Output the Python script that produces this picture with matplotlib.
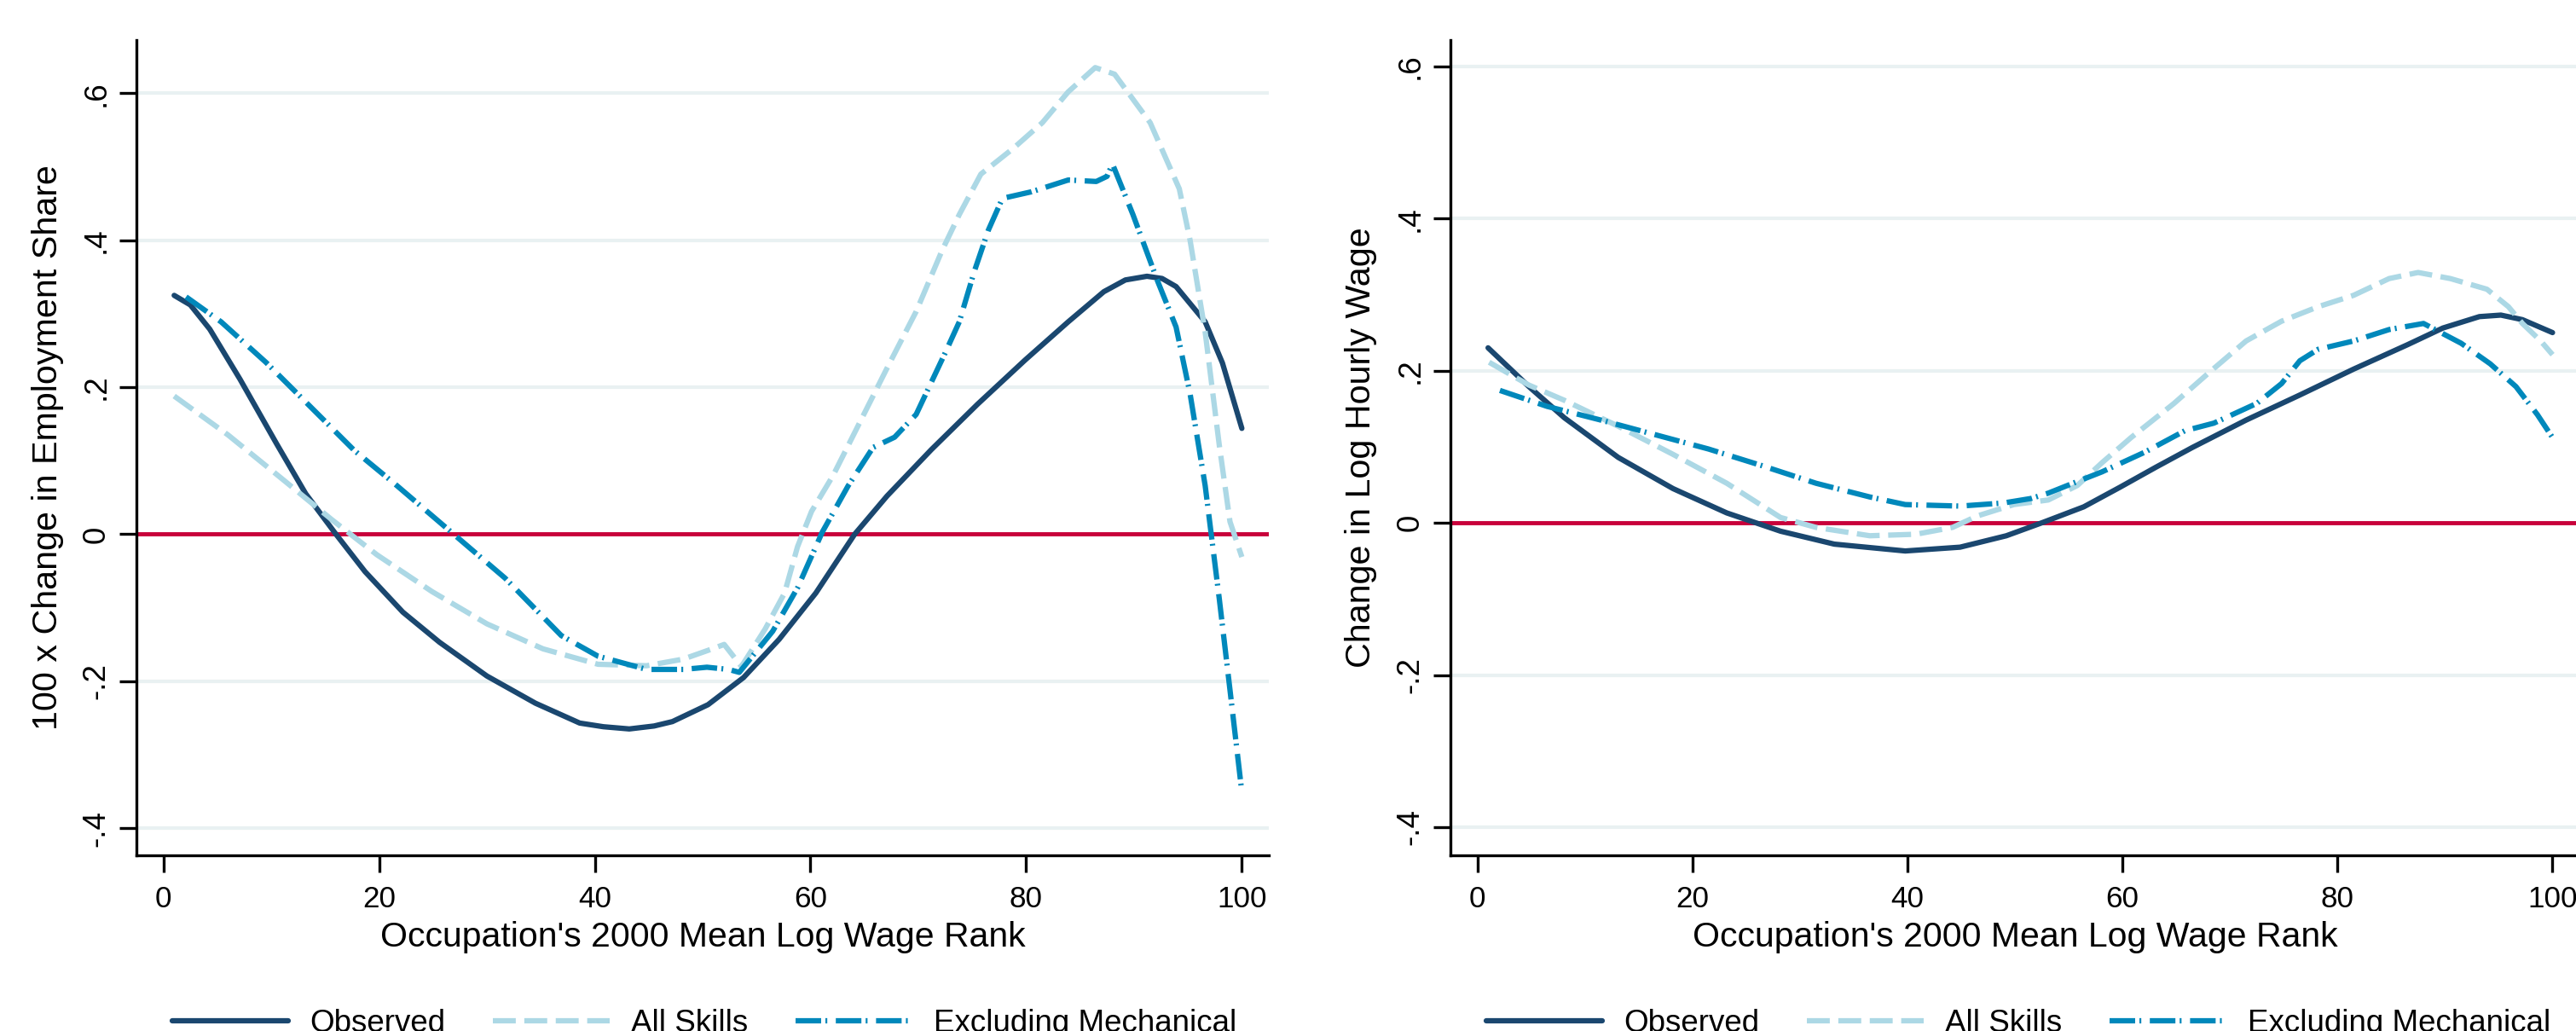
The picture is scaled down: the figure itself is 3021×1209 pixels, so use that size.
import matplotlib
matplotlib.use('Agg')
import matplotlib.pyplot as plt
from matplotlib import font_manager as fm

# ---------------- data ----------------
series_labels = ["Observed", "All Skills", "Excluding Mechanical"]
x_label = "Occupation's 2000 Mean Log Wage Rank"
y_label_left = "100 x Change in Employment Share"
y_label_right = "Change in Log Hourly Wage"
x_ticks = [0, 20, 40, 60, 80, 100]
y_ticks = [-0.4, -0.2, 0, 0.2, 0.4, 0.6]
y_tick_labels = ["-.4", "-.2", "0", ".2", ".4", ".6"]

# Left panel: employment share
emp_obs_x = [1, 2.5, 4.3, 7.1, 10.5, 13.2, 16.0, 18.7, 22.2, 25.6, 30.0, 34.5, 38.6,
             40.8, 43.2, 45.5, 47.2, 50.5, 53.8, 57.1, 60.5, 64.1, 67.1, 71.2, 75.5,
             79.9, 83.9, 87.2, 89.2, 91.2, 92.6, 93.9, 96.6, 98.2, 100]
emp_obs_y = [0.325, 0.312, 0.279, 0.211, 0.123, 0.055, 0.0, -0.051, -0.106, -0.147,
             -0.193, -0.230, -0.257, -0.262, -0.265, -0.261, -0.255, -0.232, -0.195,
             -0.143, -0.080, 0.0, 0.052, 0.115, 0.177, 0.237, 0.289, 0.330, 0.346,
             0.351, 0.348, 0.337, 0.289, 0.233, 0.144]

emp_all_x = [1, 6.0, 11.2, 15.6, 19.8, 24.9, 30.0, 35.2, 40.3, 44.8, 48.2, 50.9, 52.0,
             53.6, 55.8, 57.6, 58.8, 60.1, 62.1, 64.5, 67.1, 69.8, 72.2, 73.8, 75.8,
             78.8, 81.5, 83.9, 86.4, 88.2, 91.5, 94.2, 95.2, 96.6, 97.9, 98.9, 100]
emp_all_y = [0.188, 0.135, 0.073, 0.020, -0.028, -0.078, -0.122, -0.156, -0.177,
             -0.179, -0.170, -0.156, -0.150, -0.180, -0.129, -0.080, -0.017, 0.031,
             0.080, 0.150, 0.226, 0.303, 0.386, 0.435, 0.490, 0.525, 0.560, 0.602,
             0.635, 0.626, 0.560, 0.470, 0.400, 0.275, 0.122, 0.017, -0.031]

emp_exm_x = [2.1, 5.35, 9.5, 13.6, 17.7, 21.5, 26.6, 31.7, 36.9, 40.3, 44.8, 48.2,
             50.4, 52.4, 53.4, 56.5, 58.8, 61.1, 63.5, 65.8, 67.8, 69.8, 72.5, 73.8,
             75.2, 76.5, 77.8, 80.5, 83.9, 86.5, 87.5, 88.0, 89.9, 92.2, 93.9, 95.2,
             96.6, 97.9, 98.9, 100]
emp_exm_y = [0.323, 0.289, 0.234, 0.174, 0.114, 0.068, 0.004, -0.060, -0.138, -0.166,
             -0.184, -0.184, -0.181, -0.184, -0.188, -0.132, -0.073, 0.003, 0.066,
             0.118, 0.132, 0.163, 0.247, 0.289, 0.358, 0.414, 0.457, 0.466, 0.482,
             0.480, 0.487, 0.504, 0.435, 0.344, 0.282, 0.191, 0.066, -0.087, -0.212,
             -0.351]

# Right panel: hourly wage
wage_obs_x = [1, 4.8, 8.1, 13.1, 18.2, 23.2, 28.2, 33.2, 39.8, 44.9, 49.2, 52.5, 56.4,
              59.8, 63.1, 66.5, 71.5, 76.5, 81.5, 86.5, 89.8, 93.2, 95.2, 97.2, 100]
wage_obs_y = [0.230, 0.179, 0.138, 0.086, 0.045, 0.013, -0.011, -0.028, -0.037,
              -0.032, -0.017, 0.0, 0.021, 0.047, 0.073, 0.099, 0.135, 0.168, 0.202,
              0.234, 0.256, 0.271, 0.273, 0.267, 0.250]

wage_all_x = [1.1, 4.8, 8.1, 13.1, 18.2, 23.2, 28.2, 31.5, 36.5, 40.8, 44.2, 46.5,
              49.9, 53.1, 55.8, 58.1, 60.8, 64.8, 68.1, 71.5, 74.8, 78.2, 81.5, 84.8,
              87.5, 90.5, 93.9, 95.9, 97.2, 98.9, 100]
wage_all_y = [0.211, 0.181, 0.161, 0.127, 0.090, 0.052, 0.007, -0.006, -0.017, -0.015,
              -0.006, 0.009, 0.024, 0.030, 0.049, 0.079, 0.112, 0.157, 0.198, 0.239,
              0.265, 0.284, 0.299, 0.321, 0.329, 0.321, 0.307, 0.284, 0.262, 0.239,
              0.221]

wage_exm_x = [2.1, 6.5, 11.5, 16.5, 21.5, 26.5, 31.5, 36.5, 39.8, 44.9, 48.9, 51.5,
              53.1, 55.4, 58.1, 62.1, 65.8, 68.5, 72.5, 74.8, 76.5, 78.2, 81.5, 84.8,
              88.0, 91.5, 94.2, 96.6, 98.6, 100]
wage_exm_y = [0.174, 0.153, 0.135, 0.116, 0.097, 0.075, 0.052, 0.034, 0.024, 0.022,
              0.026, 0.032, 0.039, 0.052, 0.067, 0.093, 0.121, 0.131, 0.157, 0.183,
              0.213, 0.228, 0.239, 0.254, 0.262, 0.236, 0.209, 0.179, 0.142, 0.112]

# ---------------- fonts ----------------
_installed = set(f.name for f in fm.fontManager.ttflist)


def pick(cands):
    for c in cands:
        if c in _installed:
            return [c, 'DejaVu Sans']
    return ['DejaVu Sans']


FONT = pick(['Liberation Sans', 'Arimo', 'Nimbus Sans', 'TeX Gyre Heros'])

# ---------------- style ----------------
NAVY = '#1a476f'
LIGHT = '#acd8e5'
EBBLUE = '#0088bb'
RED = '#c8003a'
GRID = '#e9f1f2'
LW = 4.5
styles = [
    dict(color=NAVY, lw=LW, ls='-', solid_capstyle='round'),
    dict(color=LIGHT, lw=LW, ls=(0, (4.3, 1.6)), dash_capstyle='butt'),
    dict(color=EBBLUE, lw=LW, ls=(0, (4.8, 0.8, 0.35, 1.6)), dash_capstyle='butt'),
]

W, H, DPI = 3021, 1209, 100
fig = plt.figure(figsize=(W / DPI, H / DPI), dpi=DPI)
fig.patch.set_facecolor('white')


def px_rect(l, r, t, b):
    return [l / W, 1 - b / H, (r - l) / W, (b - t) / H]


axL = fig.add_axes(px_rect(160, 1488, 46.5, 1003))
axR = fig.add_axes(px_rect(1701, 3025, 46.5, 1003))

panels = [
    (axL, [(emp_obs_x, emp_obs_y), (emp_all_x, emp_all_y), (emp_exm_x, emp_exm_y)],
     y_label_left, (-0.437, 0.673), -0.0637),
    (axR, [(wage_obs_x, wage_obs_y), (wage_all_x, wage_all_y), (wage_exm_x, wage_exm_y)],
     y_label_right, (-0.437, 0.635), -0.0652),
]

for ax, data, ylab, ylim, ylab_x in panels:
    ax.set_xlim(-2.5, 102.5)
    ax.set_ylim(*ylim)
    ax.set_yticks(y_ticks)
    ax.set_yticklabels(y_tick_labels, rotation=90, va='center', ha='right',
                       family=FONT, fontsize=26.5)
    ax.set_xticks(x_ticks)
    ax.set_xticklabels([str(t) for t in x_ticks], family=FONT, fontsize=25.3)
    ax.yaxis.grid(True, color=GRID, lw=3.0)
    ax.set_axisbelow(True)
    for s in ['top', 'right']:
        ax.spines[s].set_visible(False)
    for s in ['left', 'bottom']:
        ax.spines[s].set_linewidth(2.4)
    ax.tick_params(axis='both', length=14.4, width=2.4, direction='out')
    ax.tick_params(axis='y', pad=7)
    ax.tick_params(axis='x', pad=10.8)
    ax.axhline(0, color=RED, lw=3.5, zorder=1.5)
    handles = []
    for (xs, ys), st, lab in zip(data, styles, series_labels):
        ln, = ax.plot(xs, ys, label=lab, zorder=3, **st)
        handles.append(ln)
    ax.set_xlabel(x_label, family=FONT, fontsize=29.5, labelpad=6.5)
    ax.set_ylabel(ylab, family=FONT, fontsize=29.7)
    ax.yaxis.set_label_coords(ylab_x, 0.5)
    ax.legend(handles=handles, loc='center left',
              bbox_to_anchor=(0.0315, -0.206), ncol=3, frameon=False,
              prop=dict(family=FONT, size=26.5), handlelength=3.71,
              handletextpad=0.68, columnspacing=1.52, borderpad=0,
              borderaxespad=0)

fig.savefig('out.png', dpi=DPI, facecolor='white')
